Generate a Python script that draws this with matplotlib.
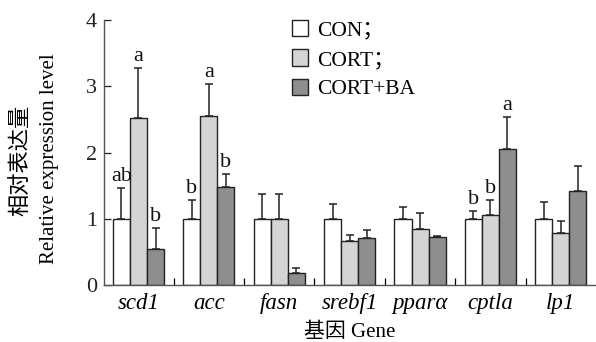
import matplotlib
matplotlib.use("Agg")
import matplotlib.pyplot as plt
import numpy as np
from matplotlib.patches import Patch

genes = ["scd1", "acc", "fasn", "srebf1", "ppar\u03b1", "cptla", "lp1"]
groups = ["CON\uff1b", "CORT\uff1b", "CORT+BA"]
con = [1.00, 1.00, 1.00, 1.00, 1.00, 1.00, 1.00]
con_err = [0.46, 0.29, 0.37, 0.22, 0.17, 0.11, 0.26]
cort = [2.52, 2.55, 1.00, 0.66, 0.84, 1.05, 0.78]
cort_err = [0.76, 0.48, 0.37, 0.10, 0.25, 0.24, 0.19]
ba = [0.55, 1.48, 0.18, 0.71, 0.72, 2.05, 1.42]
ba_err = [0.31, 0.20, 0.07, 0.12, 0.02, 0.49, 0.37]
letters = {  # (gene index, group index): letter
    (0, 0): "ab", (0, 1): "a", (0, 2): "b",
    (1, 0): "b", (1, 1): "a", (1, 2): "b",
    (5, 0): "b", (5, 1): "b", (5, 2): "a",
}

FILLS = ["#ffffff", "#d4d4d4", "#8e8e8e"]
EDGE = "#222222"
SERIF = ["Liberation Serif", "Noto Sans CJK SC"]

plt.rcParams["font.family"] = SERIF

fig = plt.figure(figsize=(5.96, 3.42), dpi=100)
ax = fig.add_axes([104 / 596, 1 - 285 / 342, 492 / 596, 265 / 342])

x = np.arange(len(genes))
w = 0.242
series = [(con, con_err), (cort, cort_err), (ba, ba_err)]
for i, (vals, errs) in enumerate(series):
    pos = x + (i - 1) * w
    ax.bar(pos, vals, w, color=FILLS[i], edgecolor=EDGE, linewidth=1.0,
           label=groups[i], zorder=2)
    ax.errorbar(pos, vals, yerr=[np.zeros(len(vals)), errs], fmt="none",
                ecolor=EDGE, elinewidth=1.1, capsize=3.2, capthick=1.1, zorder=1)

for (g, k), s in letters.items():
    top = series[k][0][g] + series[k][1][g]
    ax.text(x[g] + (k - 1) * w, top + 0.03, s, ha="center", va="bottom",
            fontsize=16, color="#111111")

ax.set_xlim(-0.49, 6.5)
ax.set_ylim(0, 4)
ax.set_yticks([0, 1, 2, 3, 4])
ax.tick_params(axis="y", direction="in", length=5, width=0.9, labelsize=16,
               pad=5, colors="#222222")
ax.set_xticks(x)
ax.set_xticklabels(genes, fontstyle="italic", fontsize=16.5)
ax.tick_params(axis="x", length=0, pad=6)
ax.set_xticks(x[:-1] + 0.5, minor=True)
ax.tick_params(axis="x", which="minor", direction="in", length=5, width=0.9)

for side in ["top", "right"]:
    ax.spines[side].set_visible(False)
for side in ["left", "bottom"]:
    ax.spines[side].set_color("#555555")
    ax.spines[side].set_linewidth(1.0)

ax.set_xlabel("基因 Gene", fontsize=15, labelpad=6)
fig.text(22 / 596, 1 - 160 / 342, "相对表达量", rotation=90, ha="center",
         va="center", fontsize=16)
fig.text(50 / 596, 1 - 159 / 342, "Relative expression level", rotation=90,
         ha="center", va="center", fontsize=15)

handles = [Patch(facecolor=FILLS[i], edgecolor=EDGE, linewidth=1.0)
           for i in range(3)]
ax.legend(handles, groups, loc="upper left", bbox_to_anchor=(0.365, 1.033),
          frameon=False, fontsize=15.5, handlelength=0.75, handleheight=0.8,
          handletextpad=0.4, labelspacing=0.4, borderaxespad=0)

fig.savefig("out.png", dpi=100, facecolor="white")
